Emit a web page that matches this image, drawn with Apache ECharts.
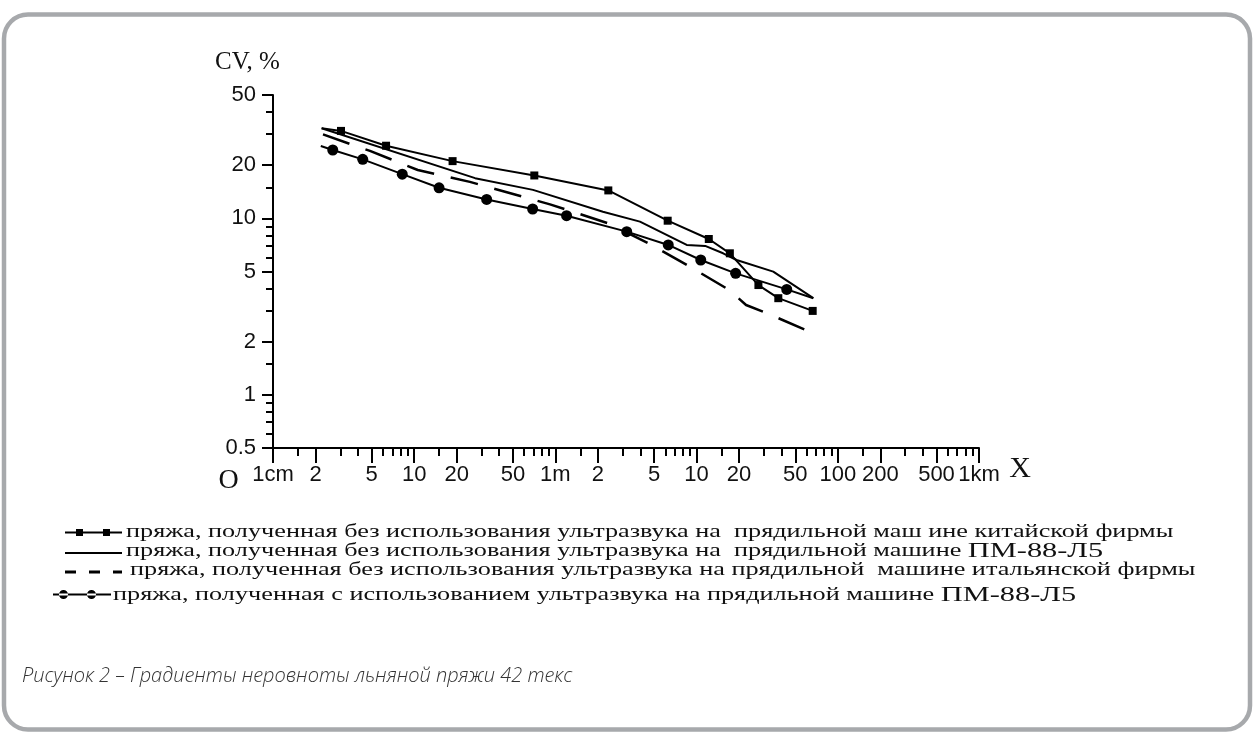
<!DOCTYPE html>
<html><head><meta charset="utf-8">
<script src="https://cdn.jsdelivr.net/npm/echarts@6/dist/echarts.min.js"></script>
<style>html,body{margin:0;padding:0;background:#fff}#c{width:1253px;height:742px}</style>
</head><body><div id="c"></div>
<script>
// ---- data (x in metres, y = CV %) ----
const seriesNames = [
  'пряжа, полученная без использования ультразвука на  прядильной маш ине китайской фирмы',
  'пряжа, полученная без использования ультразвука на  прядильной машине ПМ-88-Л5',
  'пряжа, полученная без использования ультразвука на прядильной  машине итальянской фирмы',
  'пряжа, полученная с использованием ультразвука на прядильной машине ПМ-88-Л5'
];
const chinaX = [0.0221, 0.0303, 0.0632, 0.187, 0.709, 2.37, 6.24, 12.2, 17.2, 27.4, 37.9, 66.4];
const chinaY = [32.4, 31.3, 25.8, 21.1, 17.5, 14.4, 9.7, 7.64, 6.34, 4.19, 3.53, 2.99];
const chinaNoMarker = [0];

const pmX = [0.0221, 0.270, 0.694, 2.17, 3.97, 8.51, 11.5, 15.4, 19.2, 34.9, 67.1];
const pmY = [32.4, 16.9, 14.5, 10.9, 9.58, 7.07, 6.98, 6.34, 5.81, 4.99, 3.53];

const italyX = [0.0226, 0.0486, 0.106, 0.248, 0.916, 2.36, 4.53, 8.55, 17.0, 22.4, 31.5, 59.5];
const italyY = [29.9, 24.1, 18.8, 16.1, 12.0, 9.38, 7.25, 5.44, 3.93, 3.23, 2.90, 2.33];

const ultraX = [0.0218, 0.0265, 0.0432, 0.0823, 0.150, 0.326, 0.690, 1.20, 3.20, 6.30, 10.7, 18.9, 43.5, 67.1];
const ultraY = [25.7, 24.4, 21.6, 17.8, 14.9, 12.8, 11.3, 10.35, 8.41, 7.07, 5.81, 4.88, 3.96, 3.53];
const ultraNoMarker = [0, 13];

// ---- ticks ----
const xMajor = [0.01, 0.02, 0.05, 0.1, 0.2, 0.5, 1, 2, 5, 10, 20, 50, 100, 200, 500, 1000];
const xLabels = ['1cm', '2', '5', '10', '20', '50', '1m', '2', '5', '10', '20', '50', '100', '200', '500', '1km'];
const xMinor = [0.015, 0.03, 0.04, 0.06, 0.07, 0.08, 0.09, 0.15, 0.3, 0.4, 0.6, 0.7, 0.8, 0.9,
  1.5, 3, 4, 6, 7, 8, 9, 15, 30, 40, 60, 70, 80, 90, 150, 300, 400, 600, 700, 800, 900];
const yMajor = [0.5, 1, 2, 5, 10, 20, 50];
const yLabels = ['0.5', '1', '2', '5', '10', '20', '50'];
const yMinor = [0.6, 0.7, 0.8, 0.9, 1.5, 3, 4, 6, 7, 8, 9, 15, 30, 40];

const yAxisTitle = 'CV, %';
const originLabel = 'O';
const xAxisTitle = 'X';
const caption = 'Рисунок 2 – Градиенты неровноты льняной пряжи 42 текс';

function labelOf(v, majors, labels) {
  for (let i = 0; i < majors.length; i++) {
    if (Math.abs(Math.log10(majors[i]) - Math.log10(v)) < 1e-6) return labels[i];
  }
  return '';
}
function pts(xs, ys, noMarker) {
  return xs.map((x, i) => (noMarker && noMarker.indexOf(i) >= 0)
    ? { value: [x, ys[i]], symbol: 'none' } : [x, ys[i]]);
}

const LBL = { fontFamily: 'Liberation Sans', fontSize: 22, color: '#111' };
const chart = echarts.init(document.getElementById('c'), null, { renderer: 'canvas' });

const lineBase = { type: 'line', smooth: false, silent: true, animation: false,
  itemStyle: { color: '#000' }, z: 3 };

const legendBase = { padding: 0, selectedMode: false, formatter: () => '',
  textStyle: { fontSize: 2, lineHeight: 2 } };

function legendLabel(i, x, y) {
  return { type: 'text', x: x, y: y, scaleX: 1.38, silent: true,
    style: { text: seriesNames[i].replace('ПМ-88-Л5', '{b|ПМ-88-Л5}'),
      fontFamily: 'Liberation Serif', fontSize: 19, fill: '#111', verticalAlign: 'middle',
      rich: { b: { fontFamily: 'Liberation Serif', fontSize: 22, fill: '#111' } } } };
}

chart.setOption({
  animation: false,
  backgroundColor: '#fff',
  grid: { left: 273, right: 274, top: 95, bottom: 294, containLabel: false },
  xAxis: [{
    type: 'log', logBase: 10, min: 0.01, max: 1000,
    axisLine: { show: true, lineStyle: { color: '#000', width: 2 } },
    axisTick: { show: true, customValues: xMajor, length: 15, lineStyle: { color: '#000', width: 2 } },
    axisLabel: Object.assign({ show: true, customValues: xMajor, margin: 16,
      formatter: v => labelOf(v, xMajor, xLabels) }, LBL),
    splitLine: { show: false }, minorTick: { show: false }
  }, {
    type: 'log', logBase: 10, min: 0.01, max: 1000, position: 'bottom',
    axisLine: { show: false },
    axisTick: { show: true, customValues: xMinor, length: 8, lineStyle: { color: '#000', width: 2 } },
    axisLabel: { show: false }, splitLine: { show: false }
  }],
  yAxis: [{
    type: 'log', logBase: 10, min: 0.5, max: 50,
    axisLine: { show: true, lineStyle: { color: '#000', width: 2 } },
    axisTick: { show: true, customValues: yMajor, length: 11, lineStyle: { color: '#000', width: 2 } },
    axisLabel: Object.assign({ show: true, customValues: yMajor, margin: 17,
      formatter: v => labelOf(v, yMajor, yLabels) }, LBL),
    splitLine: { show: false }, minorTick: { show: false }
  }, {
    type: 'log', logBase: 10, min: 0.5, max: 50, position: 'left',
    axisLine: { show: false },
    axisTick: { show: true, customValues: yMinor, length: 7, lineStyle: { color: '#000', width: 2 } },
    axisLabel: { show: false }, splitLine: { show: false }
  }],
  legend: [
    Object.assign({}, legendBase, { data: [seriesNames[0]], left: 65, top: 529, itemWidth: 57, itemHeight: 7,
      icon: 'path://M0,2.5 L57,2.5 L57,4.5 L0,4.5 Z M11,0 L18,0 L18,7 L11,7 Z M38,0 L45,0 L45,7 L38,7 Z' }),
    Object.assign({}, legendBase, { data: [seriesNames[1]], left: 65, top: 552, itemWidth: 57, itemHeight: 2,
      icon: 'path://M0,0 L57,0 L57,2 L0,2 Z' }),
    Object.assign({}, legendBase, { data: [seriesNames[2]], left: 65, top: 570.5, itemWidth: 57, itemHeight: 3,
      icon: 'path://M0,0 L11,0 L11,3 L0,3 Z M24,0 L35,0 L35,3 L24,3 Z M48,0 L57,0 L57,3 L48,3 Z' }),
    Object.assign({}, legendBase, { data: [seriesNames[3]], left: 53, top: 590, itemWidth: 58, itemHeight: 9,
      icon: 'path://M0,3.5 L58,3.5 L58,5.5 L0,5.5 Z M6,4.5 A4.5,4.5 0 1,0 15,4.5 A4.5,4.5 0 1,0 6,4.5 Z M34,4.5 A4.5,4.5 0 1,0 43,4.5 A4.5,4.5 0 1,0 34,4.5 Z' })
  ],
  series: [
    Object.assign({}, lineBase, { name: seriesNames[0], data: pts(chinaX, chinaY, chinaNoMarker),
      symbol: 'rect', symbolSize: 8, lineStyle: { color: '#000', width: 2 } }),
    Object.assign({}, lineBase, { name: seriesNames[1], data: pts(pmX, pmY),
      symbol: 'none', lineStyle: { color: '#000', width: 2 } }),
    Object.assign({}, lineBase, { name: seriesNames[2], data: pts(italyX, italyY),
      symbol: 'none', lineStyle: { color: '#000', width: 2.5, type: [28, 17] } }),
    Object.assign({}, lineBase, { name: seriesNames[3], data: pts(ultraX, ultraY, ultraNoMarker),
      symbol: 'circle', symbolSize: 11, lineStyle: { color: '#000', width: 2 } })
  ],
  graphic: [
    { type: 'rect', shape: { x: 4, y: 14.5, width: 1246, height: 715, r: 24 }, silent: true, z: -10,
      style: { fill: 'none', stroke: '#a7a9ac', lineWidth: 4.5 } },
    { type: 'text', x: 247.5, y: 62.5, silent: true,
      style: { text: yAxisTitle, fontFamily: 'Liberation Serif', fontSize: 25, fill: '#111',
        align: 'center', verticalAlign: 'middle' } },
    { type: 'text', x: 228.5, y: 481, silent: true,
      style: { text: originLabel, fontFamily: 'Liberation Serif', fontSize: 28, fill: '#111',
        align: 'center', verticalAlign: 'middle' } },
    { type: 'text', x: 1020, y: 469, silent: true,
      style: { text: xAxisTitle, fontFamily: 'Liberation Serif', fontSize: 30, fill: '#111',
        align: 'center', verticalAlign: 'middle' } },
    legendLabel(0, 126, 532),
    legendLabel(1, 126, 551),
    legendLabel(2, 130, 570),
    legendLabel(3, 113, 595),
    { type: 'text', x: 22, y: 676, silent: true,
      style: { text: caption, fontFamily: 'Open Sans', fontStyle: 'italic', fontWeight: 300,
        fontSize: 20, fill: '#333', verticalAlign: 'middle' } }
  ]
});
</script></body></html>
